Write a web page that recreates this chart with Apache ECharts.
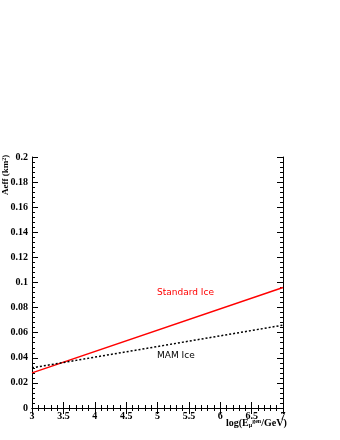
<!DOCTYPE html>
<html>
<head>
<meta charset="utf-8">
<script src="https://cdn.jsdelivr.net/npm/echarts@6/dist/echarts.min.js"></script>
<style>
html,body{margin:0;padding:0;background:#fff;}
#chart{width:340px;height:440px;}
</style>
</head>
<body>
<div id="chart"></div>
<script>
// log10(E/GeV) at the two ends of each line
var energy = [3, 7];
// effective area, km^2
var standardIce = [0.028, 0.096];
var mamIce = [0.032, 0.066];

var serif = 'Liberation Serif';

function pairs(xs, ys) {
	var out = [];
	for (var i = 0; i < xs.length; i++) {
		out.push([xs[i], ys[i]]);
	}
	return out;
}

var tickStyle = {color: '#000', width: 1};

var myChart = echarts.init(document.getElementById('chart'));
var option = {
	backgroundColor: '#fff',
	animation: false,
	grid: {left: 32, right: 57, top: 157, bottom: 32},
	xAxis: [
		{
			type: 'value', min: 3, max: 7, interval: 0.5,
			axisLine: {show: true, lineStyle: tickStyle},
			axisTick: {show: true, inside: true, length: 6, lineStyle: tickStyle},
			minorTick: {show: true, splitNumber: 5, length: 3, lineStyle: tickStyle},
			splitLine: {show: false},
			axisLabel: {color: '#000', fontFamily: serif, fontWeight: 'bold', fontSize: 10, margin: 3}
		},
		{
			type: 'value', min: 3, max: 7, interval: 0.5, position: 'top',
			axisLine: {show: true, lineStyle: tickStyle},
			axisTick: {show: true, inside: true, length: 6, lineStyle: tickStyle},
			minorTick: {show: true, splitNumber: 5, length: 3, lineStyle: tickStyle},
			splitLine: {show: false},
			axisLabel: {show: false}
		}
	],
	yAxis: [
		{
			type: 'value', min: 0, max: 0.2, interval: 0.02,
			axisLine: {show: true, lineStyle: tickStyle},
			axisTick: {show: true, inside: true, length: 6, lineStyle: tickStyle},
			minorTick: {show: true, splitNumber: 5, length: 3, lineStyle: tickStyle},
			splitLine: {show: false},
			axisLabel: {color: '#000', fontFamily: serif, fontWeight: 'bold', fontSize: 10, margin: 4}
		},
		{
			type: 'value', min: 0, max: 0.2, interval: 0.02, position: 'right',
			axisLine: {show: true, lineStyle: tickStyle},
			axisTick: {show: true, inside: true, length: 6, lineStyle: tickStyle},
			minorTick: {show: true, splitNumber: 5, length: 3, lineStyle: tickStyle},
			splitLine: {show: false},
			axisLabel: {show: false}
		}
	],
	series: [
		{
			name: 'Standard Ice',
			type: 'line',
			showSymbol: false,
			data: pairs(energy, standardIce),
			lineStyle: {color: '#ff0000', width: 1.5}
		},
		{
			name: 'MAM Ice',
			type: 'line',
			showSymbol: false,
			data: pairs(energy, mamIce),
			lineStyle: {color: '#000', width: 1.5, type: [2, 2]}
		}
	],
	graphic: [
		{
			type: 'text', left: 157, top: 288,
			style: {text: 'Standard Ice', fill: '#ff0000', font: '9px "DejaVu Sans"'}
		},
		{
			type: 'text', left: 157, top: 351,
			style: {text: 'MAM Ice', fill: '#000', font: '9px "DejaVu Sans"'}
		},
		{
			type: 'text', x: 1, y: 195, rotation: Math.PI / 2,
			style: {
				text: '{b|Aeff (km}{s|2}{b|)}',
				rich: {
					b: {fontFamily: serif, fontWeight: 'bold', fontSize: 9, fill: '#000'},
					s: {fontFamily: serif, fontWeight: 'bold', fontSize: 6, fill: '#000', padding: [0, 0, 4, 0]}
				}
			}
		},
		{
			type: 'text', left: 226, top: 418,
			style: {
				text: '{b|log(E}{sub|μ}{sup|gen}{b|/GeV)}',
				rich: {
					b: {fontFamily: serif, fontWeight: 'bold', fontSize: 10, fill: '#000'},
					sub: {fontFamily: serif, fontWeight: 'bold', fontSize: 6, fill: '#000', padding: [4, 0, 0, 0]},
					sup: {fontFamily: serif, fontWeight: 'bold', fontSize: 6, fill: '#000', padding: [0, 0, 4, 0]}
				}
			}
		}
	]
};
myChart.setOption(option);
</script>
</body>
</html>
